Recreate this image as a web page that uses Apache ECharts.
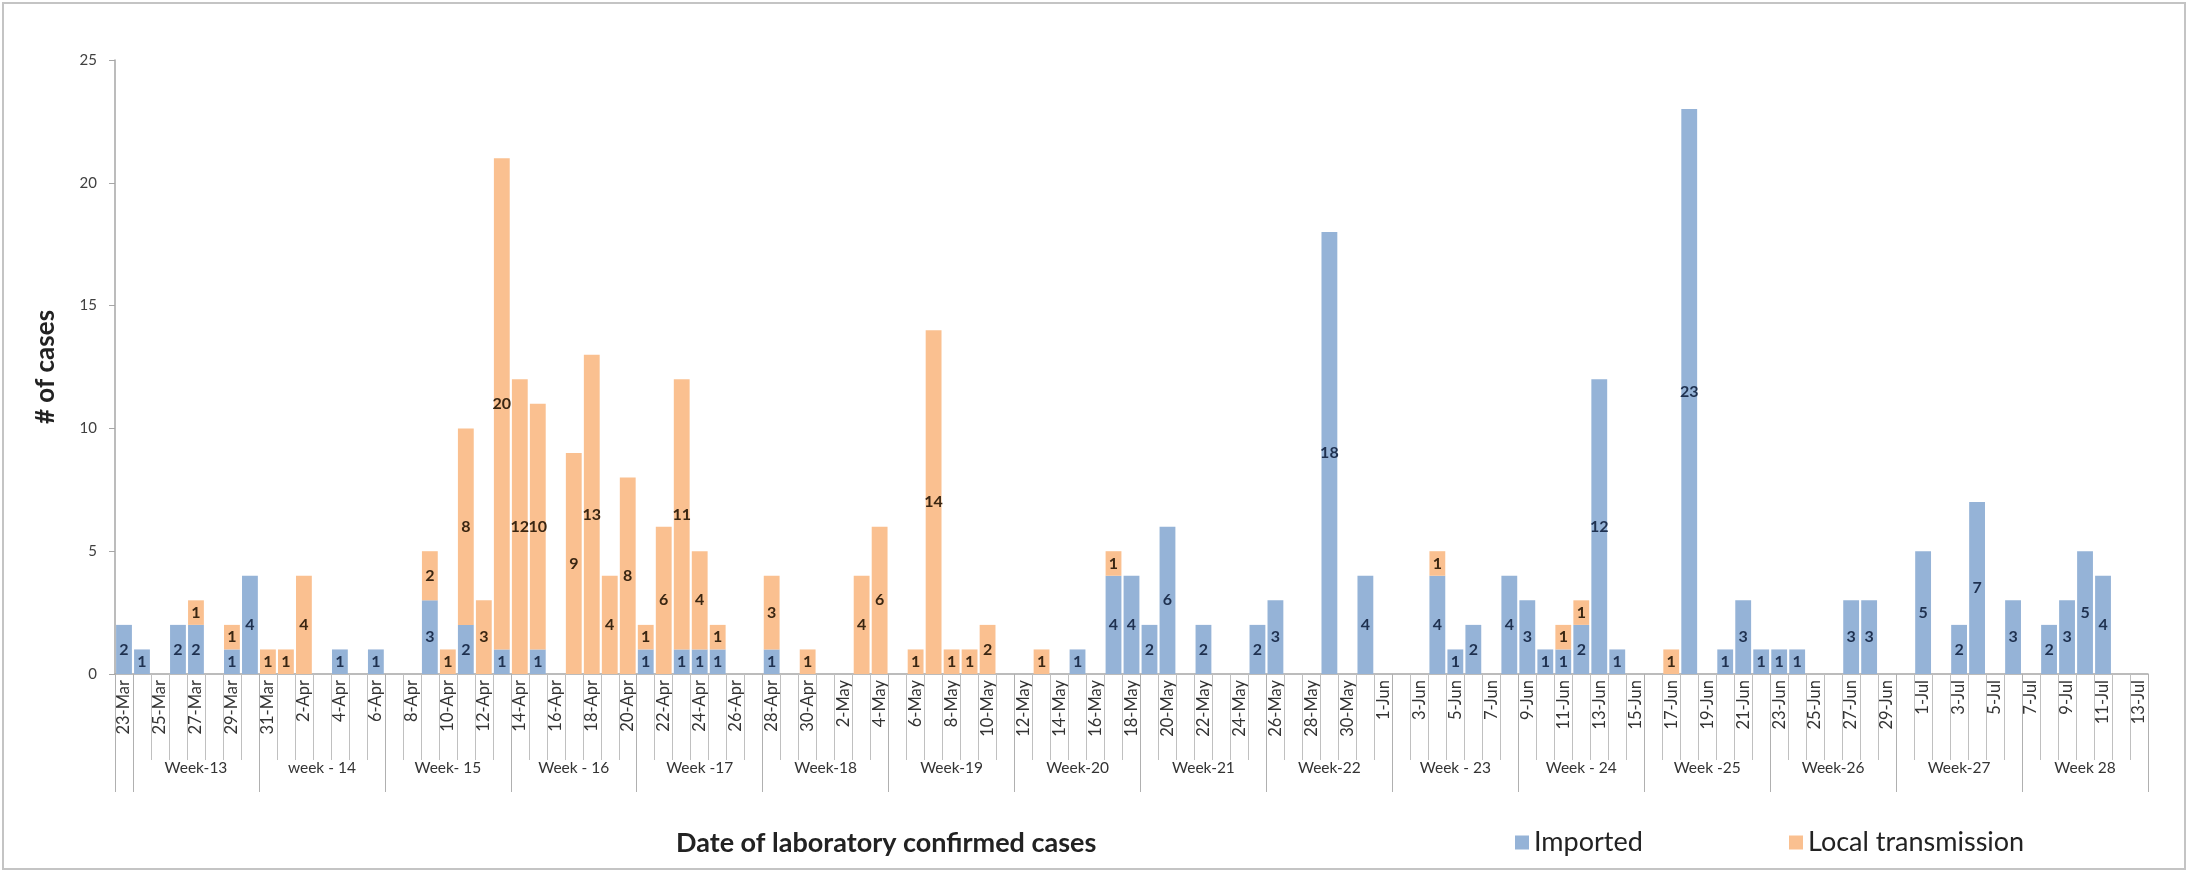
<!DOCTYPE html>
<html><head><meta charset="utf-8">
<script src="https://cdn.jsdelivr.net/npm/echarts@6/dist/echarts.min.js"></script>
<style>html,body{margin:0;padding:0;background:#fff}#c{width:2192px;height:874px}</style>
</head><body><div id="c"></div>
<script>
const dates = [
 '23-Mar','24-Mar','25-Mar','26-Mar','27-Mar','28-Mar','29-Mar','30-Mar','31-Mar',
 '1-Apr','2-Apr','3-Apr','4-Apr','5-Apr','6-Apr','7-Apr','8-Apr','9-Apr','10-Apr',
 '11-Apr','12-Apr','13-Apr','14-Apr','15-Apr','16-Apr','17-Apr','18-Apr','19-Apr','20-Apr',
 '21-Apr','22-Apr','23-Apr','24-Apr','25-Apr','26-Apr','27-Apr','28-Apr','29-Apr','30-Apr',
 '1-May','2-May','3-May','4-May','5-May','6-May','7-May','8-May','9-May','10-May',
 '11-May','12-May','13-May','14-May','15-May','16-May','17-May','18-May','19-May','20-May',
 '21-May','22-May','23-May','24-May','25-May','26-May','27-May','28-May','29-May','30-May','31-May',
 '1-Jun','2-Jun','3-Jun','4-Jun','5-Jun','6-Jun','7-Jun','8-Jun','9-Jun','10-Jun',
 '11-Jun','12-Jun','13-Jun','14-Jun','15-Jun','16-Jun','17-Jun','18-Jun','19-Jun','20-Jun',
 '21-Jun','22-Jun','23-Jun','24-Jun','25-Jun','26-Jun','27-Jun','28-Jun','29-Jun','30-Jun',
 '1-Jul','2-Jul','3-Jul','4-Jul','5-Jul','6-Jul','7-Jul','8-Jul','9-Jul','10-Jul',
 '11-Jul','12-Jul','13-Jul'
];
const weeks = ['Week-13','week - 14','Week- 15','Week - 16','Week -17','Week-18','Week-19','Week-20',
 'Week-21','Week-22','Week - 23','Week - 24','Week -25','Week-26','Week-27','Week 28'];
const imported = [
 2,1,0,2,2,0,1,4,0,
 0,0,0,1,0,1,0,0,3,0,
 2,0,1,0,1,0,0,0,0,0,
 1,0,1,1,1,0,0,1,0,0,
 0,0,0,0,0,0,0,0,0,0,
 0,0,0,0,1,0,4,4,2,6,
 0,2,0,0,2,3,0,0,18,0,4,
 0,0,0,4,1,2,0,4,3,1,
 1,2,12,1,0,0,0,23,0,1,
 3,1,1,1,0,0,3,3,0,0,
 5,0,2,7,0,3,0,2,3,5,
 4,0,0
];
const local = [
 0,0,0,0,1,0,1,0,1,
 1,4,0,0,0,0,0,0,2,1,
 8,3,20,12,10,0,9,13,4,8,
 1,6,11,4,1,0,0,3,0,1,
 0,0,4,6,0,1,14,1,1,2,
 0,0,1,0,0,0,1,0,0,0,
 0,0,0,0,0,0,0,0,0,0,0,
 0,0,0,1,0,0,0,0,0,0,
 1,1,0,0,0,0,1,0,0,0,
 0,0,0,0,0,0,0,0,0,0,
 0,0,0,0,0,0,0,0,0,0,
 0,0,0
];
const weekAxisData = dates.map((d, i) => (i >= 4 && (i - 4) % 7 === 0) ? weeks[(i - 4) / 7] : '');

const FONT = 'Lato';
const chart = echarts.init(document.getElementById('c'), null, {renderer: 'canvas'});
const lbl = (color) => ({
  show: true, position: 'inside', fontSize: 16, fontFamily: FONT, color: color, fontWeight: 'bold',
  formatter: p => p.value ? String(p.value) : ''
});
const legendCommon = {
  top: 824, itemWidth: 14, itemHeight: 14, icon: 'rect', itemGap: 10,
  textStyle: {fontSize: 27, color: '#222', fontFamily: FONT}
};
chart.setOption({
  backgroundColor: '#fff',
  animation: false,
  textStyle: {fontFamily: FONT},
  grid: {left: 115, top: 60, right: 44, bottom: 200, containLabel: false},
  legend: [
    Object.assign({left: 1510, data: ['Imported']}, legendCommon),
    Object.assign({left: 1784, data: ['Local transmission']}, legendCommon)
  ],
  graphic: [
    {type: 'rect', shape: {x: 3, y: 3, width: 2182, height: 866},
     style: {fill: 'none', stroke: '#c4c4c4', lineWidth: 2}, silent: true},
    {type: 'text', x: 676, y: 843,
     style: {text: 'Date of laboratory confirmed cases', fontSize: 27, fontWeight: 'bold',
             fontFamily: FONT, fill: '#222', textAlign: 'left', textVerticalAlign: 'middle'}}
  ],
  xAxis: [
    {
      type: 'category', data: dates, position: 'bottom',
      axisLine: {lineStyle: {color: '#a6a6a6', width: 1.5}},
      axisTick: {show: true, interval: 0, length: 86, lineStyle: {color: '#c0c0c0'}},
      axisLabel: {interval: 1, rotate: 90, margin: 6, fontSize: 16.5, color: '#333', fontFamily: FONT}
    },
    {
      type: 'category', data: weekAxisData, position: 'bottom',
      axisLine: {show: false},
      axisTick: {show: true, interval: (i) => i === 0 || (i - 1) % 7 === 0, length: 118,
                 lineStyle: {color: '#b0b0b0'}},
      axisLabel: {interval: 0, margin: 86, fontSize: 15.5, color: '#333', fontFamily: FONT}
    }
  ],
  yAxis: {
    type: 'value', min: 0, max: 25, interval: 5,
    splitLine: {show: false},
    axisLine: {show: true, lineStyle: {color: '#a6a6a6', width: 1.5}},
    axisTick: {show: true, length: 6, lineStyle: {color: '#a6a6a6'}},
    axisLabel: {fontSize: 15, color: '#404040', margin: 18, fontFamily: FONT},
    name: '# of cases', nameLocation: 'middle', nameGap: 56, nameRotate: 90,
    nameTextStyle: {fontSize: 26, fontWeight: 'bold', color: '#222', fontFamily: FONT}
  },
  series: [
    {name: 'Imported', type: 'bar', stack: 'cases', data: imported, xAxisIndex: 0,
     barCategoryGap: '12%', itemStyle: {color: '#95B3D7'}, label: lbl('#1F3150')},
    {name: 'Local transmission', type: 'bar', stack: 'cases', data: local, xAxisIndex: 0,
     barCategoryGap: '12%', itemStyle: {color: '#FAC090'}, label: lbl('#3A2612')}
  ]
});
</script></body></html>
